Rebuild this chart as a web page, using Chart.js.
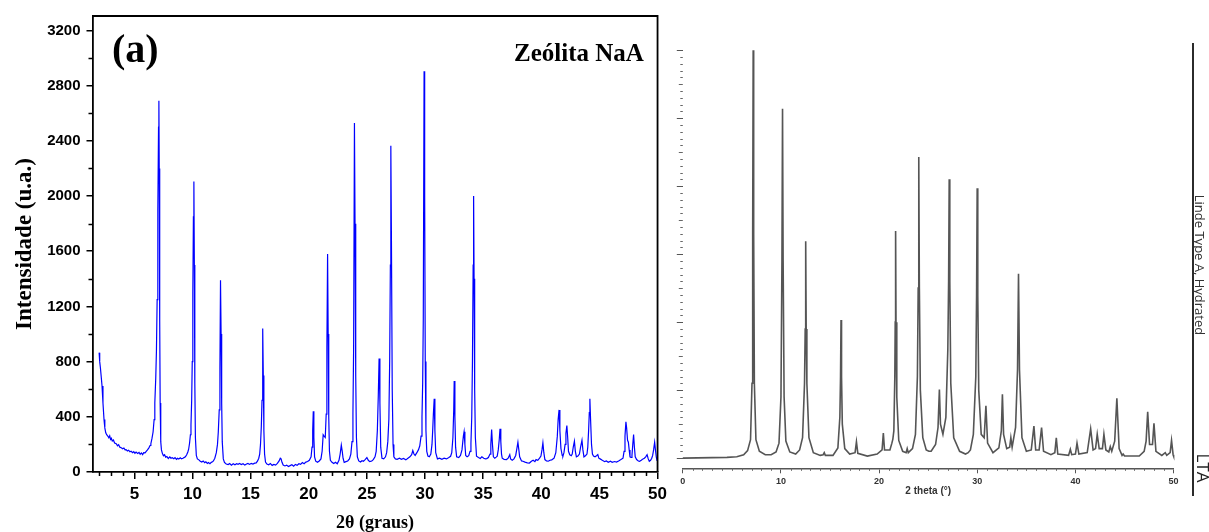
<!DOCTYPE html>
<html>
<head>
<meta charset="utf-8">
<script src="https://cdn.jsdelivr.net/npm/chart.js@4.4.1/dist/chart.umd.min.js"></script>
<style>
  body { margin: 0; background: #fff; overflow: hidden; }
  #wrap { position: relative; width: 1209px; height: 532px; }
  canvas { position: absolute; top: 0; }
  .lbl { position: absolute; white-space: nowrap; line-height: 1; }
</style>
</head>
<body>
<div id="wrap">
  <canvas id="naa" width="672" height="532" style="left:0"></canvas>
  <canvas id="lta" width="537" height="532" style="left:672px"></canvas>
  <div class="lbl" style="left:112px;top:25px;font:bold 40px 'Liberation Serif';">(a)</div>
  <div class="lbl" style="left:514px;top:39px;font:bold 25px 'Liberation Serif';">Zeólita NaA</div>
  <div class="lbl" style="left:1200px;top:265px;font:13px 'Open Sans';color:#333;transform:translate(-50%,-50%) rotate(90deg);">Linde Type A, Hydrated</div>
  <div class="lbl" style="left:1203px;top:468px;font:17px 'Open Sans';color:#222;transform:translate(-50%,-50%) rotate(90deg);">LTA</div>
  <div style="position:absolute;left:1192px;top:43px;width:2px;height:453px;background:#2b2b2b;"></div>
</div>
<script>
// measured pattern of the synthesised zeolite (2theta in degrees, counts)
var naaAngle = [
  1.97, 2.02, 2.08, 2.15, 2.22, 2.30, 2.39, 2.46, 2.54, 2.62, 2.73, 2.80, 2.88, 2.95, 3.02, 3.10, 3.20, 3.30, 3.44, 3.55,
  3.65, 3.75, 3.87, 4.00, 4.10, 4.20, 4.29, 4.40, 4.50, 4.62, 4.72, 4.85, 4.95, 5.05, 5.15, 5.28, 5.40, 5.50, 5.60, 5.71,
  5.80, 5.92, 6.02, 6.13, 6.25, 6.35, 6.42, 6.52, 6.61, 6.70, 6.76, 6.84, 6.90, 6.96, 7.02, 7.08, 7.11, 7.14, 7.18, 7.22,
  7.27, 7.33, 7.41, 7.50, 7.60, 7.69, 7.80, 7.92, 8.05, 8.15, 8.26, 8.40, 8.50, 8.62, 8.72, 8.82, 8.95, 9.05, 9.18, 9.30,
  9.39, 9.50, 9.60, 9.67, 9.75, 9.82, 9.87, 9.93, 9.98, 10.03, 10.08, 10.12, 10.16, 10.20, 10.25, 10.33, 10.42, 10.55, 10.67, 10.80,
  10.92, 11.05, 11.15, 11.28, 11.37, 11.50, 11.62, 11.72, 11.80, 11.92, 12.05, 12.15, 12.22, 12.30, 12.36, 12.41, 12.46, 12.51, 12.56, 12.65,
  12.75, 12.90, 13.07, 13.20, 13.35, 13.50, 13.65, 13.80, 13.92, 14.05, 14.20, 14.35, 14.50, 14.65, 14.77, 14.90, 15.05, 15.20, 15.35, 15.48,
  15.60, 15.70, 15.78, 15.85, 15.92, 15.98, 16.04, 16.09, 16.14, 16.20, 16.28, 16.40, 16.55, 16.70, 16.85, 17.00, 17.15, 17.30, 17.45, 17.55,
  17.62, 17.70, 17.80, 17.95, 18.10, 18.25, 18.40, 18.55, 18.70, 18.85, 19.00, 19.15, 19.30, 19.45, 19.60, 19.75, 19.90, 20.05, 20.20, 20.28,
  20.34, 20.39, 20.44, 20.50, 20.60, 20.75, 20.90, 21.05, 21.15, 21.24, 21.32, 21.42, 21.50, 21.56, 21.62, 21.67, 21.72, 21.78, 21.86, 22.00,
  22.15, 22.30, 22.45, 22.60, 22.70, 22.80, 22.88, 22.95, 23.05, 23.20, 23.35, 23.50, 23.62, 23.72, 23.80, 23.86, 23.93, 23.98, 24.04, 24.10,
  24.18, 24.30, 24.45, 24.58, 24.70, 24.85, 25.00, 25.12, 25.25, 25.42, 25.55, 25.70, 25.80, 25.90, 25.98, 26.05, 26.12, 26.19, 26.30, 26.45,
  26.60, 26.70, 26.80, 26.89, 26.96, 27.02, 27.06, 27.11, 27.18, 27.25, 27.32, 27.45, 27.60, 27.80, 27.97, 28.15, 28.35, 28.53, 28.70, 28.85,
  28.95, 29.05, 29.15, 29.30, 29.44, 29.55, 29.66, 29.74, 29.80, 29.85, 29.92, 29.97, 30.02, 30.08, 30.15, 30.25, 30.37, 30.50, 30.60, 30.66,
  30.72, 30.79, 30.85, 30.92, 31.07, 31.25, 31.45, 31.64, 31.85, 32.05, 32.20, 32.30, 32.40, 32.47, 32.51, 32.57, 32.63, 32.72, 32.90, 33.05,
  33.18, 33.25, 33.30, 33.36, 33.43, 33.50, 33.62, 33.76, 33.87, 33.95, 34.02, 34.08, 34.14, 34.18, 34.22, 34.27, 34.33, 34.43, 34.60, 34.75,
  34.89, 35.05, 35.20, 35.31, 35.45, 35.59, 35.66, 35.73, 35.80, 35.88, 36.00, 36.12, 36.21, 36.30, 36.38, 36.45, 36.52, 36.58, 36.64, 36.80,
  37.01, 37.15, 37.29, 37.36, 37.50, 37.65, 37.80, 37.90, 37.99, 38.07, 38.14, 38.30, 38.42, 38.60, 38.80, 38.98, 39.15, 39.30, 39.45, 39.55,
  39.70, 39.85, 39.97, 40.06, 40.14, 40.22, 40.31, 40.45, 40.60, 40.75, 40.90, 41.10, 41.25, 41.38, 41.45, 41.53, 41.60, 41.69, 41.80, 41.86,
  41.95, 42.05, 42.12, 42.20, 42.27, 42.34, 42.45, 42.58, 42.66, 42.75, 42.85, 42.93, 43.02, 43.15, 43.28, 43.38, 43.50, 43.58, 43.67, 43.80,
  43.93, 44.00, 44.07, 44.13, 44.18, 44.24, 44.32, 44.40, 44.49, 44.62, 44.75, 44.86, 44.95, 45.06, 45.25, 45.45, 45.60, 45.76, 45.95, 46.10,
  46.30, 46.47, 46.65, 46.85, 47.03, 47.12, 47.20, 47.28, 47.34, 47.42, 47.49, 47.56, 47.63, 47.72, 47.80, 47.87, 47.94, 48.01, 48.08, 48.20,
  48.35, 48.45, 48.60, 48.75, 48.87, 48.98, 49.10, 49.20, 49.29, 49.40, 49.50, 49.58, 49.66, 49.75, 49.82, 49.89, 49.96
];
var naaIntensity = [
  865, 800, 756, 690, 623, 500, 380, 320, 284, 270, 259, 248, 262, 236, 244, 225, 232, 210, 205, 190,
  198, 180, 176, 168, 174, 160, 162, 152, 158, 147, 150, 140, 148, 136, 145, 135, 142, 128, 138, 126,
  140, 138, 150, 160, 175, 192, 205, 245, 290, 380, 500, 680, 880, 1250, 1900, 2500, 2690, 2200, 1100, 500,
  220, 160, 135, 118, 125, 108, 112, 98, 110, 100, 104, 96, 104, 92, 100, 94, 103, 95, 100, 106,
  110, 125, 145, 165, 210, 270, 340, 520, 800, 1300, 1850, 2105, 1500, 650, 250, 120, 95, 88, 78, 72,
  80, 68, 74, 62, 68, 60, 70, 74, 80, 100, 140, 200, 290, 450, 750, 1390, 1000, 500, 220, 95,
  70, 58, 54, 62, 50, 60, 52, 60, 56, 62, 54, 60, 50, 58, 62, 55, 62, 58, 64, 66,
  80, 100, 130, 200, 330, 520, 1040, 700, 300, 130, 72, 58, 52, 62, 48, 55, 50, 62, 80, 100,
  95, 70, 50, 44, 50, 40, 46, 52, 42, 55, 48, 60, 55, 68, 60, 72, 76, 85, 110, 180,
  300, 440, 250, 110, 78, 70, 80, 95, 150, 270, 260, 250, 420, 900, 1580, 1000, 400, 150, 85, 70,
  62, 70, 60, 85, 130, 195, 150, 100, 70, 75, 80, 95, 130, 220, 420, 900, 2530, 1800, 700, 250,
  110, 80, 72, 82, 78, 90, 105, 85, 75, 80, 90, 110, 150, 300, 550, 822, 500, 180, 100, 95,
  110, 140, 220, 380, 800, 1500, 2365, 1700, 600, 200, 110, 95, 92, 100, 92, 98, 88, 100, 110, 125,
  155, 130, 120, 140, 162, 190, 260, 400, 650, 1100, 2905, 2000, 800, 300, 150, 115, 110, 130, 200, 300,
  420, 531, 300, 140, 95, 100, 92, 100, 95, 105, 114, 140, 250, 450, 660, 400, 180, 110, 105, 120,
  160, 220, 260, 291, 200, 120, 110, 118, 150, 210, 400, 800, 1500, 2000, 1400, 600, 250, 114, 105, 98,
  110, 100, 95, 97, 105, 130, 200, 308, 200, 110, 100, 108, 115, 160, 230, 313, 220, 130, 100, 92,
  90, 100, 126, 95, 85, 95, 120, 170, 216, 160, 110, 80, 78, 72, 66, 65, 78, 85, 75, 90,
  85, 100, 115, 160, 211, 140, 90, 80, 78, 85, 88, 100, 140, 260, 380, 450, 300, 170, 120, 115,
  140, 200, 280, 337, 250, 150, 125, 118, 130, 180, 223, 150, 110, 115, 130, 180, 230, 160, 110, 118,
  130, 180, 300, 430, 531, 380, 200, 130, 115, 110, 118, 126, 100, 95, 85, 75, 80, 70, 78, 70,
  76, 72, 80, 90, 100, 150, 260, 364, 320, 230, 216, 160, 110, 105, 120, 200, 271, 180, 110, 90,
  80, 78, 85, 95, 100, 110, 126, 95, 78, 85, 100, 120, 160, 216, 160, 110, 80
];

// reference pattern (simulated, arbitrary units with the strongest line = 600)
var ltaAngle = [
  0, 4.5, 5.5, 6.2, 6.6, 6.9, 7.05, 7.12, 7.17, 7.22, 7.29, 7.45, 7.8, 8.4, 9.0, 9.5, 9.8, 10.0, 10.1, 10.16,
  10.22, 10.32, 10.5, 10.9, 11.5, 11.9, 12.2, 12.4, 12.47, 12.52, 12.57, 12.64, 12.85, 13.3, 14.0, 14.3, 14.41, 14.52, 15.3, 15.8,
  16.0, 16.07, 16.12, 16.17, 16.25, 16.5, 17.0, 17.55, 17.69, 17.83, 18.8, 19.8, 20.3, 20.43, 20.55, 21.1, 21.3, 21.4, 21.5, 21.6,
  21.64, 21.68, 21.72, 21.8, 22.0, 22.4, 22.75, 22.86, 22.97, 23.4, 23.7, 23.9, 23.98, 24.04, 24.1, 24.2, 24.45, 24.8, 25.07, 25.3,
  25.75, 26.0, 26.14, 26.25, 26.5, 26.8, 27.0, 27.08, 27.14, 27.2, 27.3, 27.6, 28.2, 28.8, 29.07, 29.3, 29.6, 29.85, 29.93, 29.99,
  30.05, 30.15, 30.4, 30.7, 30.88, 31.05, 31.6, 32.2, 32.45, 32.56, 32.68, 33.0, 33.3, 33.42, 33.55, 33.9, 34.1, 34.2, 34.3, 34.55,
  35.0, 35.5, 35.77, 35.95, 36.3, 36.55, 36.75, 37.5, 37.9, 38.05, 38.2, 39.3, 39.48, 39.62, 40.0, 40.16, 40.35, 41.2, 41.55, 41.8,
  42.05, 42.22, 42.42, 42.75, 42.9, 43.1, 43.4, 43.55, 43.7, 44.0, 44.22, 44.45, 44.75, 44.86, 45.0, 46.5, 47.0, 47.2, 47.36, 47.55,
  47.85, 48.0, 48.2, 48.8, 49.15, 49.3, 49.65, 49.79, 49.95, 50
];
var ltaIntensity = [
  0, 1, 2, 5, 11, 27, 110, 330, 600, 330, 110, 27, 10, 5, 5, 9, 22, 90, 290, 514,
  290, 90, 25, 9, 6, 12, 30, 110, 190, 319, 190, 110, 30, 8, 4, 5, 8, 4, 4, 15,
  60, 120, 203, 120, 50, 14, 6, 8, 24, 7, 3, 6, 12, 37, 12, 12, 22, 28, 40, 120,
  200, 334, 200, 90, 26, 10, 8, 14, 8, 14, 35, 120, 250, 443, 250, 100, 30, 12, 10, 10,
  20, 45, 101, 50, 35, 60, 160, 260, 410, 260, 110, 30, 10, 6, 8, 12, 35, 120, 240, 397,
  240, 100, 35, 30, 77, 22, 8, 15, 40, 94, 35, 14, 16, 30, 16, 45, 130, 271, 130, 30,
  10, 12, 47, 12, 12, 45, 10, 5, 8, 30, 6, 4, 13, 5, 6, 22, 6, 8, 43, 12,
  14, 35, 14, 14, 35, 12, 9, 17, 10, 25, 88, 14, 4, 6, 3, 3, 10, 25, 68, 20,
  20, 51, 10, 4, 8, 4, 8, 26, 5, 3
];

// tick positions
var naaXTicks = [5, 10, 15, 20, 25, 30, 35, 40, 45, 50];
var naaYTicks = [0, 400, 800, 1200, 1600, 2000, 2400, 2800, 3200];
var ltaXTicks = [0, 10, 20, 30, 40, 50];
var ltaYTicks = [0, 100, 200, 300, 400, 500, 600];

var naaXMinor = [], naaYMinor = [], ltaXMinor = [], ltaYMinor = [], ltaYMid = [];
for (var i = 2; i < 50; i++) if (i % 5) naaXMinor.push(i);
for (var v = 200; v < 3300; v += 400) naaYMinor.push(v);
for (var i = 1; i < 50; i++) if (i % 10) ltaXMinor.push(i);
for (var v = 10; v < 600; v += 10) {
  if (v % 100 === 50) ltaYMid.push(v);
  else if (v % 100) ltaYMinor.push(v);
}

// short extra tick marks and the box round the left plot
var axisExtras = {
  id: "axisExtras",
  afterDraw: function (chart, args, o) {
    var ctx = chart.ctx, a = chart.chartArea, sx = chart.scales.x, sy = chart.scales.y;
    ctx.save();
    ctx.strokeStyle = o.color;
    ctx.lineWidth = o.width;
    ctx.beginPath();
    (o.xMinor || []).forEach(function (t) {
      var px = Math.round(sx.getPixelForValue(t)) + 0.5;
      ctx.moveTo(px, a.bottom); ctx.lineTo(px, a.bottom + o.xLen);
    });
    (o.yMinor || []).forEach(function (t) {
      var py = Math.round(sy.getPixelForValue(t)) + 0.5;
      ctx.moveTo(a.left, py); ctx.lineTo(a.left - o.yLen, py);
    });
    (o.yMid || []).forEach(function (t) {
      var py = Math.round(sy.getPixelForValue(t)) + 0.5;
      ctx.moveTo(a.left, py); ctx.lineTo(a.left - o.yMidLen, py);
    });
    ctx.stroke();
    if (o.frame) {
      ctx.lineWidth = o.frame;
      ctx.beginPath();
      ctx.moveTo(a.left, a.top); ctx.lineTo(a.right, a.top); ctx.lineTo(a.right, a.bottom);
      ctx.stroke();
    }
    ctx.restore();
  }
};

function points(xs, ys) {
  return xs.map(function (x, i) { return { x: x, y: ys[i] }; });
}

function plain(v) { return String(v); }

new Chart(document.getElementById("naa"), {
  type: "line",
  data: {
    datasets: [{
      label: "Zeólita NaA",
      data: points(naaAngle, naaIntensity),
      borderColor: "#0000ff",
      borderWidth: 1.2,
      pointRadius: 0,
      tension: 0
    }]
  },
  options: {
    responsive: false,
    animation: false,
    devicePixelRatio: 1,
    layout: { padding: { left: 0, right: 4.5, top: 16, bottom: 0 } },
    plugins: {
      legend: { display: false },
      tooltip: { enabled: false },
      axisExtras: {
        color: "#000", width: 1.5,
        xMinor: naaXMinor, xLen: 4,
        yMinor: naaYMinor, yLen: 4,
        frame: 1.8
      }
    },
    scales: {
      x: {
        type: "linear", min: 1.4, max: 50,
        afterBuildTicks: function (s) { s.ticks = naaXTicks.map(function (v) { return { value: v }; }); },
        afterFit: function (s) { s.height = 60; },
        border: { color: "#000", width: 1.8 },
        grid: { drawOnChartArea: false, tickLength: 7, color: "#000", lineWidth: 1.5 },
        ticks: { color: "#000", padding: 5, maxRotation: 0, callback: plain, font: { family: "Liberation Sans", size: 17, weight: "bold" } },
        title: {
          display: true, text: "2θ (graus)", color: "#000", padding: 0,
          font: { family: "Liberation Serif", size: 18, weight: "bold", lineHeight: 1 }
        }
      },
      y: {
        type: "linear", min: 0, max: 3305,
        afterBuildTicks: function (s) { s.ticks = naaYTicks.map(function (v) { return { value: v }; }); },
        afterFit: function (s) { s.width = 92.5; },
        border: { color: "#000", width: 1.8 },
        grid: { drawOnChartArea: false, tickLength: 6, color: "#000", lineWidth: 1.5 },
        ticks: { color: "#000", padding: 6, callback: plain, font: { family: "Liberation Sans", size: 15, weight: "bold" } },
        title: {
          display: true, text: "Intensidade (u.a.)", color: "#000", padding: { top: 11, bottom: 0 },
          font: { family: "Liberation Serif", size: 23, weight: "bold" }
        }
      }
    }
  },
  plugins: [axisExtras]
});

new Chart(document.getElementById("lta"), {
  type: "line",
  data: {
    datasets: [{
      label: "Linde Type A, Hydrated",
      data: points(ltaAngle, ltaIntensity),
      borderColor: "#555555",
      borderWidth: 1.6,
      pointRadius: 0,
      tension: 0,
      clip: false
    }]
  },
  options: {
    responsive: false,
    animation: false,
    devicePixelRatio: 1,
    layout: { padding: { left: 0, right: 35.4, top: 50.2, bottom: 0 } },
    plugins: {
      legend: { display: false },
      tooltip: { enabled: false },
      axisExtras: {
        color: "#666", width: 1,
        xMinor: ltaXMinor, xLen: 2.5,
        yMinor: ltaYMinor, yLen: 2.5,
        yMid: ltaYMid, yMidLen: 4
      }
    },
    scales: {
      x: {
        type: "linear", min: 0, max: 50,
        afterBuildTicks: function (s) { s.ticks = ltaXTicks.map(function (v) { return { value: v }; }); },
        afterFit: function (s) { s.height = 63.7; },
        border: { color: "#555", width: 1.5 },
        grid: { drawOnChartArea: false, tickLength: 5, color: "#555", lineWidth: 1 },
        ticks: { color: "#333", padding: 3, maxRotation: 0, callback: plain, font: { family: "Liberation Sans", size: 9, weight: "bold" } },
        title: {
          display: true, text: "2 theta (°)", color: "#333", padding: { top: 0, bottom: 35 },
          font: { family: "Liberation Sans", size: 10, weight: "bold" }
        }
      },
      y: {
        type: "linear", min: -15, max: 600,
        afterBuildTicks: function (s) { s.ticks = ltaYTicks.map(function (v) { return { value: v }; }); },
        afterFit: function (s) { s.width = 10.8; },
        border: { display: false },
        grid: { drawOnChartArea: false, tickLength: 6, color: "#555", lineWidth: 1 },
        ticks: { display: false }
      }
    }
  },
  plugins: [axisExtras]
});
</script>
</body>
</html>
